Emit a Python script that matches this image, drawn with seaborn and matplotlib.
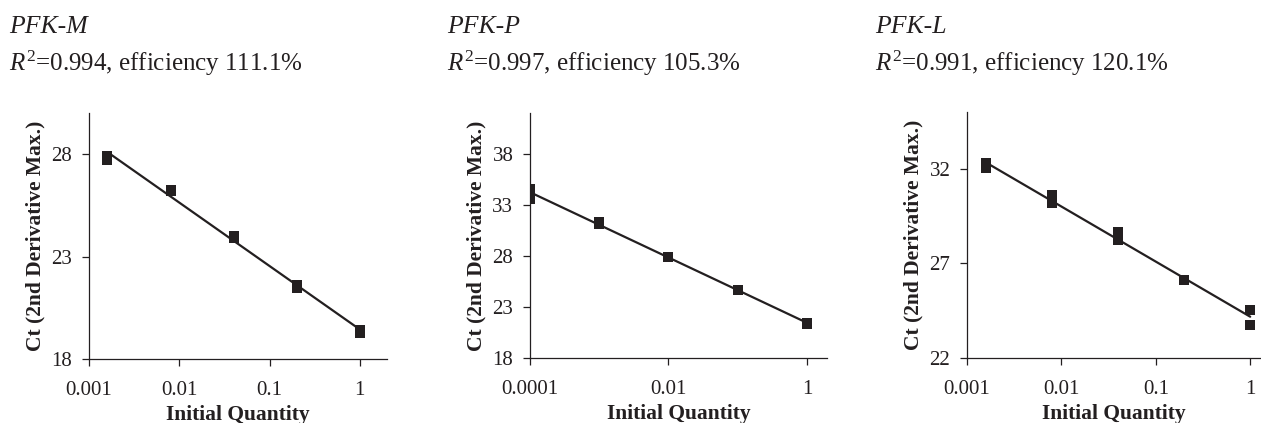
import numpy as np
import pandas as pd
import matplotlib
matplotlib.use("Agg")
import matplotlib.pyplot as plt
import matplotlib.ticker as mticker
import seaborn as sns

# ---- data ----
genes = ["PFK-M", "PFK-P", "PFK-L"]
r2_labels = ["0.994", "0.997", "0.991"]
efficiency_labels = ["111.1%", "105.3%", "120.1%"]

pfk_m_qty = [0.0016, 0.0016, 0.008, 0.008, 0.04, 0.04, 0.2, 0.2, 1, 1]
pfk_m_ct = [27.9, 27.7, 26.25, 26.2, 24.0, 23.9, 21.6, 21.45, 19.4, 19.27]

pfk_p_qty = [0.0001, 0.0001, 0.001, 0.001, 0.01, 0.01, 0.1, 0.1, 1, 1]
pfk_p_ct = [34.6, 33.6, 31.3, 31.1, 27.9, 27.85, 24.7, 24.65, 21.4, 21.35]

pfk_l_qty = [0.0016, 0.0016, 0.008, 0.008, 0.04, 0.04, 0.2, 0.2, 1, 1]
pfk_l_ct = [32.3, 32.05, 30.6, 30.17, 28.64, 28.26, 26.13, 26.1, 24.52, 23.75]

x_ticks_m = [0.001, 0.01, 0.1, 1]
x_ticks_p = [0.0001, 0.01, 1]
x_ticks_l = [0.001, 0.01, 0.1, 1]
y_ticks_m = [18, 23, 28]
y_ticks_p = [18, 23, 28, 33, 38]
y_ticks_l = [22, 27, 32]

# ---- style ----
sns.set_style("ticks")
plt.rcParams["font.family"] = ["Liberation Serif", "DejaVu Serif"]
plt.rcParams["mathtext.fontset"] = "custom"
plt.rcParams["mathtext.rm"] = "Liberation Serif"
plt.rcParams["mathtext.it"] = "Liberation Serif:italic"

ink = "#231f20"

fig = plt.figure(figsize=(12.61, 4.23), dpi=100)

W, H = 1261.0, 423.0
panels = [
    dict(qty=pfk_m_qty, ct=pfk_m_ct, xt=x_ticks_m, yt=y_ticks_m,
         xlim=(0.001, 2.0), ylim=(18, 30),
         box=(89, 113, 387, 359), tx=9),
    dict(qty=pfk_p_qty, ct=pfk_p_ct, xt=x_ticks_p, yt=y_ticks_p,
         xlim=(0.0001, 1.95), ylim=(18, 42),
         box=(530, 113, 827, 358), tx=447),
    dict(qty=pfk_l_qty, ct=pfk_l_ct, xt=x_ticks_l, yt=y_ticks_l,
         xlim=(0.001, 1.27), ylim=(22, 35),
         box=(967, 112, 1260, 358), tx=875),
]

for i, p in enumerate(panels):
    l, t, r, b = p["box"]
    ax = fig.add_axes([l / W, 1 - b / H, (r - l) / W, (b - t) / H])
    df = pd.DataFrame({"qty": p["qty"], "ct": p["ct"]})
    sns.regplot(data=df, x="qty", y="ct", logx=True, ci=None, ax=ax,
                marker="s",
                scatter_kws=dict(s=55, color=ink, linewidths=0, alpha=1),
                line_kws=dict(color=ink, linewidth=1.6))
    ax.set_xscale("log")
    ax.set_xlim(*p["xlim"])
    ax.set_ylim(*p["ylim"])
    ax.xaxis.set_major_locator(mticker.FixedLocator(p["xt"]))
    ax.xaxis.set_minor_locator(mticker.NullLocator())
    ax.xaxis.set_major_formatter(mticker.FuncFormatter(lambda v, pos: f"{v:g}"))
    ax.yaxis.set_major_locator(mticker.FixedLocator(p["yt"]))
    for side in ["top", "right"]:
        ax.spines[side].set_visible(False)
    for side in ["left", "bottom"]:
        ax.spines[side].set_color(ink)
        ax.spines[side].set_linewidth(0.9)
    ax.tick_params(axis="both", direction="out", length=5, width=0.9,
                   color=ink, labelsize=15, labelcolor=ink)
    ax.tick_params(axis="x", pad=10.5)
    ax.tick_params(axis="y", pad=7)
    ax.set_xlabel("Initial Quantity", fontsize=15.5, fontweight="bold",
                  color=ink, labelpad=4)
    ax.set_ylabel("Ct (2nd Derivative Max.)", fontsize=15.5,
                  fontweight="bold", color=ink, labelpad=4)

    fig.text(p["tx"] / W, 1 - 32.7 / H, genes[i], fontsize=18.5,
             style="italic", color=ink, va="baseline", ha="left")
    fig.text(p["tx"] / W, 1 - 70.7 / H,
             r"$R^2$=" + r2_labels[i] + ", efficiency " + efficiency_labels[i],
             fontsize=18, color=ink, va="baseline", ha="left")

fig.savefig("out.png", dpi=100)
